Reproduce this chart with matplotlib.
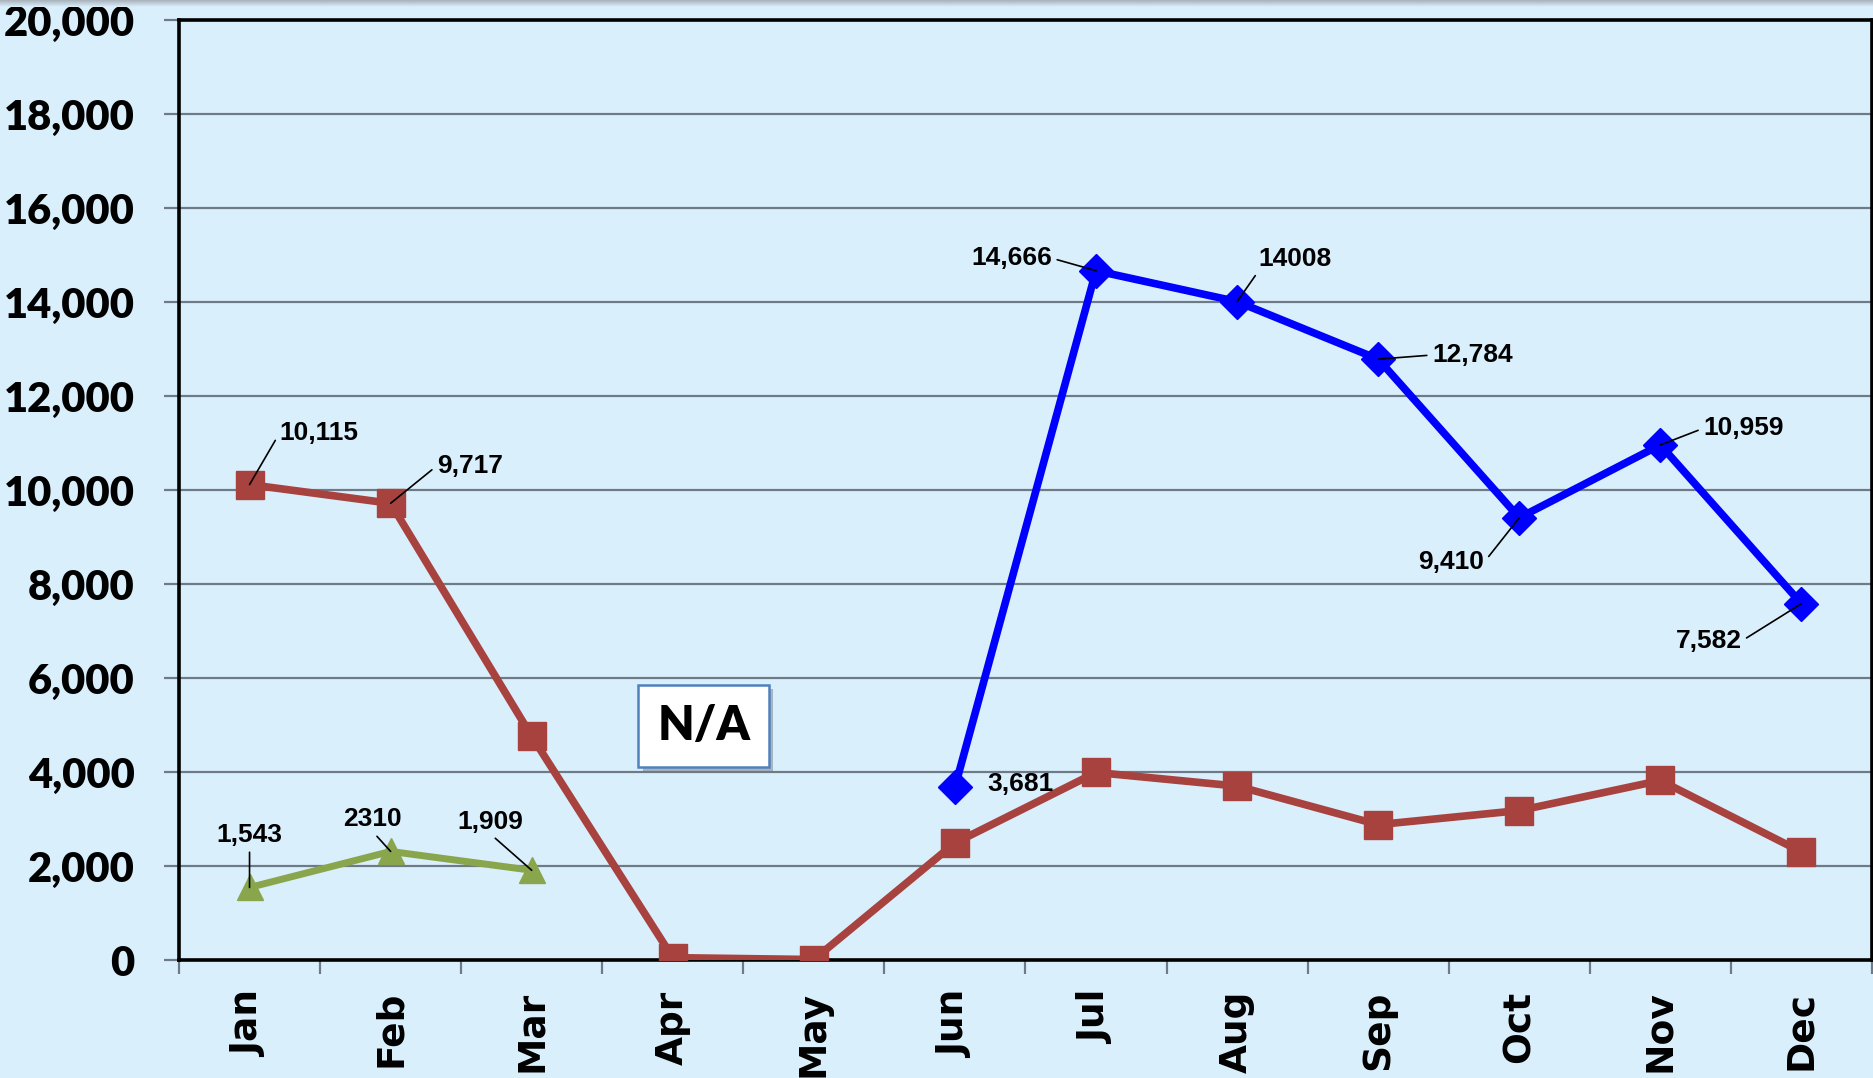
import numpy as np
import matplotlib
matplotlib.use("Agg")
import matplotlib.pyplot as plt
import matplotlib.patheffects as pe

months = ["Jan", "Feb", "Mar", "Apr", "May", "Jun",
          "Jul", "Aug", "Sep", "Oct", "Nov", "Dec"]

# red series, full year
red_vals = [10115, 9717, 4760, 50, 10, 2490,
            3990, 3700, 2880, 3180, 3820, 2300]
# green series, Jan-Mar only
green_idx = [0, 1, 2]
green_vals = [1543, 2310, 1909]
green_labels = ["1,543", "2310", "1,909"]
# blue series, Jun-Dec
blue_idx = [5, 6, 7, 8, 9, 10, 11]
blue_vals = [3681, 14666, 14008, 12784, 9410, 10959, 7582]
blue_labels = ["3,681", "14,666", "14008", "12,784", "9,410", "10,959", "7,582"]
red_label_idx = [0, 1]
red_labels = ["10,115", "9,717"]

yticks = list(range(0, 20001, 2000))

bg = "#DAEFFC"
red = "#A8423F"
green = "#8AA64C"
blue = "#0000FF"
grid_col = "#6E7B86"

fig = plt.figure(figsize=(18.74, 10.78), dpi=100, facecolor=bg)
ax = fig.add_axes([179 / 1874, 1 - 960 / 1078, (1872 - 179) / 1874, (960 - 20) / 1078])
ax.set_facecolor(bg)

x = np.arange(len(months))
ax.plot(x, red_vals, color=red, lw=5.5, marker="s", ms=20, zorder=3)
ax.plot(green_idx, green_vals, color=green, lw=5, marker="^", ms=19, zorder=3)
ax.plot(blue_idx, blue_vals, color=blue, lw=5.5, marker="D", ms=17, zorder=4)

ax.set_xlim(-0.5, 11.5)
ax.set_ylim(0, 20000)

# grid and spines
ax.set_yticks(yticks)
ax.set_yticklabels([f"{v:,}" for v in yticks])
ax.yaxis.grid(True, color=grid_col, lw=1.6)
ax.set_axisbelow(True)
for s in ax.spines.values():
    s.set_linewidth(2.6)
    s.set_color("black")

ax.tick_params(axis="y", length=11, width=1.6, color=grid_col, pad=21)
for t in ax.get_yticklabels():
    t.set_fontfamily("Lato")
    t.set_fontweight("heavy")
    t.set_fontsize(30)

# ticks between categories, labels on categories
ax.set_xticks(np.arange(-0.5, 12, 1))
ax.set_xticklabels([])
ax.tick_params(axis="x", which="major", length=10, width=1.6, color=grid_col)
ax.set_xticks(x, minor=True)
ax.set_xticklabels(months, minor=True, rotation=90, va="top", ha="center",
                   fontfamily="DejaVu Sans", fontweight="bold", fontsize=27)
ax.tick_params(axis="x", which="minor", length=0, pad=22)

lab_font = dict(fontfamily="Liberation Sans", fontweight="bold", fontsize=19, color="black")


def put_label(xi, yv, txt, off, rel, leader=True):
    ap = None
    if leader:
        ap = dict(arrowstyle="-", color="black", lw=1.2, shrinkA=2, shrinkB=0, relpos=rel)
    ax.annotate(txt, xy=(xi, yv), xytext=off, textcoords="offset points",
                ha="center", va="center", arrowprops=ap, zorder=6, **lab_font)


# offsets (points) and leader attach points per label
red_offs = [((50, 37), (0, 0.5)), ((57, 27), (0, 0.5))]
green_offs = [((0, 38), (0.5, 0)), ((-13, 23), (0.5, 0)), ((-30, 35), (0.5, 0))]
blue_offs = [((47, 2), None), ((-61, 9), (1, 0.5)), ((42, 31), (0, 0)),
             ((68, 3), (0, 0.5)), ((-49, -32), (1, 0.5)), ((60, 12), (0, 0.5)),
             ((-67, -27), (1, 0.5))]

for i, txt, (off, rel) in zip(red_label_idx, red_labels, red_offs):
    put_label(i, red_vals[i], txt, off, rel)
for i, v, txt, (off, rel) in zip(green_idx, green_vals, green_labels, green_offs):
    put_label(i, v, txt, off, rel)
for i, v, txt, (off, rel) in zip(blue_idx, blue_vals, blue_labels, blue_offs):
    put_label(i, v, txt, off, rel, leader=rel is not None)

# N/A box
na = ax.text(3.22, 4980, "N/A", ha="center", va="center", fontfamily="Lato",
             fontweight="heavy", fontsize=34, color="black", zorder=6,
             bbox=dict(boxstyle="square,pad=0.4", fc="white", ec="#4F81BD", lw=1.8))
na.get_bbox_patch().set_path_effects([pe.SimplePatchShadow(offset=(3, -3), alpha=0.35), pe.Normal()])

# thin grey shade along the top edge
top = fig.add_axes([0, 1 - 7 / 1078, 1, 7 / 1078])
grad = np.linspace(0, 1, 20).reshape(-1, 1)
top.imshow(grad, aspect="auto", cmap=matplotlib.colors.LinearSegmentedColormap.from_list("s", ["#A8B2BC", bg]))
top.axis("off")

fig.savefig("out.png", dpi=100, facecolor=bg)
